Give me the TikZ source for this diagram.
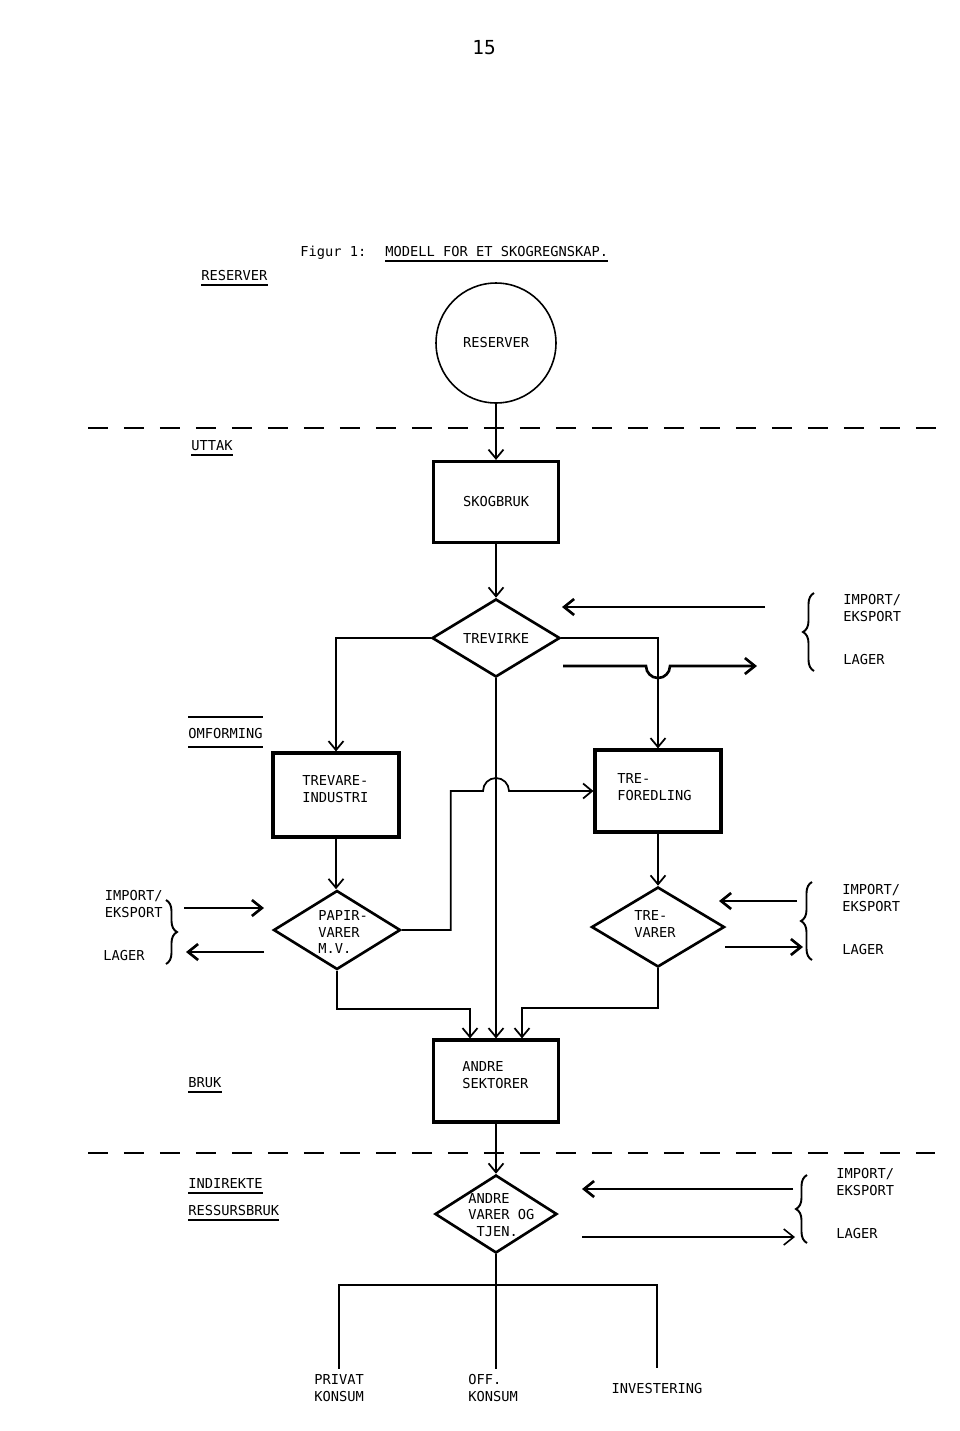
\documentclass[tikz,border=0pt]{standalone}
\usepackage{fontspec}
\setmainfont{DejaVu Sans Mono}
\usetikzlibrary{arrows.meta, calc, shapes.geometric, decorations.pathreplacing}

\tikzset{
  every node/.style={font=\fontsize{7.8}{9.6}\selectfont},
  linje/.style={line width=1pt},
  flyt/.style={linje, -{Straight Barb[length=1.8mm,width=3mm]}},
  handel/.style={line width=1.5pt, -{Straight Barb[length=2mm,width=3.2mm]}},
  boks/.style={draw, rectangle, line width=1.8pt, inner sep=0pt, minimum width=2.52cm, minimum height=1.64cm},
  rute/.style={draw, diamond, line width=1.5pt, inner sep=0pt},
  txt/.style={inner sep=0pt, align=left},
  klamme/.style={decorate, decoration={brace, amplitude=0.22cm}, line width=1.1pt},
  skille/.style={line width=1.6pt, dash pattern=on 0.4cm off 0.32cm},
  understrek/.style={append after command={($(\tikzlastnode.base west)+(0,-#1)$) edge[linje] ($(\tikzlastnode.base east)+(0,-#1)$)}},
  understrek/.default=5
}

\begin{document}
\begin{tikzpicture}[x=0.02cm, y=0.02cm]
\useasboundingbox (0,0) rectangle (960,-1431);

%%%overskrift
\node (side) at (484,-48) {\fontsize{11}{13}\selectfont 15};
\node[txt, anchor=base west] (fig) at (300,-256) {Figur 1:};
\node[txt, anchor=base west, understrek] (tittel) at (385,-256) {MODELL FOR ET SKOGREGNSKAP.};

%%%nivaa
\node[txt, anchor=base west, understrek] (l-res) at (201,-280) {RESERVER};
\node[txt, anchor=base west, understrek] (l-uttak) at (191,-450) {UTTAK};
\node[txt, anchor=base west, understrek=9] (l-omf) at (188,-738) {OMFORMING};
\draw[linje] ($(l-omf.base west)+(0,21)$) -- ($(l-omf.base east)+(0,21)$);
\node[txt, anchor=base west, understrek] (l-bruk) at (188,-1087) {BRUK};
\node[txt, anchor=base west, understrek] (l-ind) at (188,-1188) {INDIREKTE};
\node[txt, anchor=base west, understrek] (l-ress) at (188,-1215) {RESSURSBRUK};

\draw[skille] (88,-428) -- (950,-428);
\draw[skille] (88,-1153) -- (935,-1153);

%%%reserver og uttak
\node[draw, circle, line width=0.9pt, minimum size=2.4cm, inner sep=0pt] (res) at (496,-343) {RESERVER};
\node[boks, minimum width=2.5cm, minimum height=1.62cm] (skog) at (496,-502) {SKOGBRUK};
\node[rute, minimum width=2.56cm, minimum height=1.56cm] (trevirke) at (496,-638) {TREVIRKE};

%%%omforming
\node[boks, minimum height=1.68cm] (treind) at (336,-795) {};
\node[txt, anchor=west] (treind-t) at (302,-789) {TREVARE-\\INDUSTRI};
\node[boks] (trefor) at (658,-791) {};
\node[txt, anchor=west] (trefor-t) at (617,-787) {TRE-\\FOREDLING};
\node[rute, minimum width=2.54cm, minimum height=1.58cm] (papir) at (337,-930) {};
\node[txt, anchor=west] (papir-t) at (318,-932) {PAPIR-\\VARER\\M.V.};
\node[rute, minimum width=2.66cm, minimum height=1.6cm] (trevarer) at (658,-927) {};
\node[txt, anchor=west] (trevarer-t) at (634,-924) {TRE-\\VARER};

%%%bruk
\node[boks, minimum width=2.5cm] (andre) at (496,-1081) {};
\node[txt, anchor=west] (andre-t) at (462,-1075) {ANDRE\\SEKTORER};
\node[rute, minimum width=2.44cm, minimum height=1.56cm] (varer) at (496,-1214) {};
\node[txt, anchor=west] (varer-t) at (468,-1215) {ANDRE\\VARER OG\\\hphantom{V}TJEN.};

\node[txt, inner ysep=3pt] (privat) at (339,-1388) {PRIVAT\\KONSUM};
\node[txt, inner ysep=3pt] (off) at (493,-1388) {OFF.\\KONSUM};
\node[txt, inner ysep=3pt] (invest) at (657,-1388) {INVESTERING};

%%%strommer
\draw[flyt] (res.south) -- (skog.north);
\draw[flyt] (skog.south) -- (trevirke.north);
\draw[flyt] (trevirke.west) -| (treind.north);
\draw[flyt] (trevirke.east) -| (trefor.north);
\draw[flyt] (trevirke.south) -- (trevirke.south |- andre.north);
\draw[flyt] (treind.south) -- (treind.south |- papir.north);
\draw[flyt] (trefor.south) -- (trevarer.north);
\draw[flyt] (papir.east) -- ++(49,0) |- ($(trefor.west -| trevirke.south)+(-13,0)$)
  arc[start angle=180, end angle=0, radius=13] -- (trefor.west);
\draw[flyt] (papir.south) -- ++(0,-38) -| ($(andre.north)+(-26,0)$);
\draw[flyt] (trevarer.south) -- ++(0,-40) -| ($(andre.north)+(26,0)$);
\draw[flyt] (andre.south) -- (varer.north);

\coordinate (fordel) at ($(varer.south)+(0,-31)$);
\draw[linje] (varer.south) -- (varer.south |- off.north);
\draw[linje] (privat.north) |- (fordel) -| ($(invest.north)+(0,9)$);

%%%import/eksport, trevirke
\coordinate (tv-ut) at (765,-607);
\coordinate (tv-inn) at (562,-607);
\coordinate (tv-fra) at (563,-666);
\coordinate (tv-til) at (757,-666);
\draw[handel] (tv-ut) -- (tv-inn);
\draw[handel] (tv-fra) -- ($(tv-fra -| trefor.north)+(-12,0)$)
  arc[start angle=180, end angle=360, radius=12] -- (tv-til);
\draw[klamme] (814,-671) -- (814,-593);
\node[txt, anchor=west] (ie-tv) at (843,-608) {IMPORT/\\EKSPORT};
\node[txt, anchor=west] (lag-tv) at (843,-660) {LAGER};

%%%import/eksport, papirvarer
\coordinate (pv-ut) at (184,-908);
\coordinate (pv-inn) at (264,-908);
\coordinate (pv-fra) at (264,-952);
\coordinate (pv-til) at (186,-952);
\draw[handel] (pv-ut) -- (pv-inn);
\draw[handel] (pv-fra) -- (pv-til);
\draw[klamme] (166,-900) -- (166,-964);
\node[txt, anchor=east, align=right] (ie-pv) at (163,-904) {IMPORT/\\EKSPORT};
\node[txt, anchor=west] (lag-pv) at (103,-955) {LAGER};

%%%import/eksport, trevarer
\coordinate (tr-ut) at (797,-901);
\coordinate (tr-inn) at (719,-901);
\coordinate (tr-fra) at (725,-947);
\coordinate (tr-til) at (803,-947);
\draw[handel] (tr-ut) -- (tr-inn);
\draw[handel] (tr-fra) -- (tr-til);
\draw[klamme] (812,-960) -- (812,-882);
\node[txt, anchor=west] (ie-tr) at (842,-898) {IMPORT/\\EKSPORT};
\node[txt, anchor=west] (lag-tr) at (842,-949) {LAGER};

%%%import/eksport, andre varer
\coordinate (av-ut) at (793,-1189);
\coordinate (av-inn) at (582,-1189);
\coordinate (av-fra) at (582,-1237);
\coordinate (av-til) at (795,-1237);
\draw[handel] (av-ut) -- (av-inn);
\draw[handel, line width=0.9pt] (av-fra) -- (av-til);
\draw[klamme] (807,-1243) -- (807,-1175);
\node[txt, anchor=west] (ie-av) at (836,-1182) {IMPORT/\\EKSPORT};
\node[txt, anchor=west] (lag-av) at (836,-1233) {LAGER};

\end{tikzpicture}
\end{document}
